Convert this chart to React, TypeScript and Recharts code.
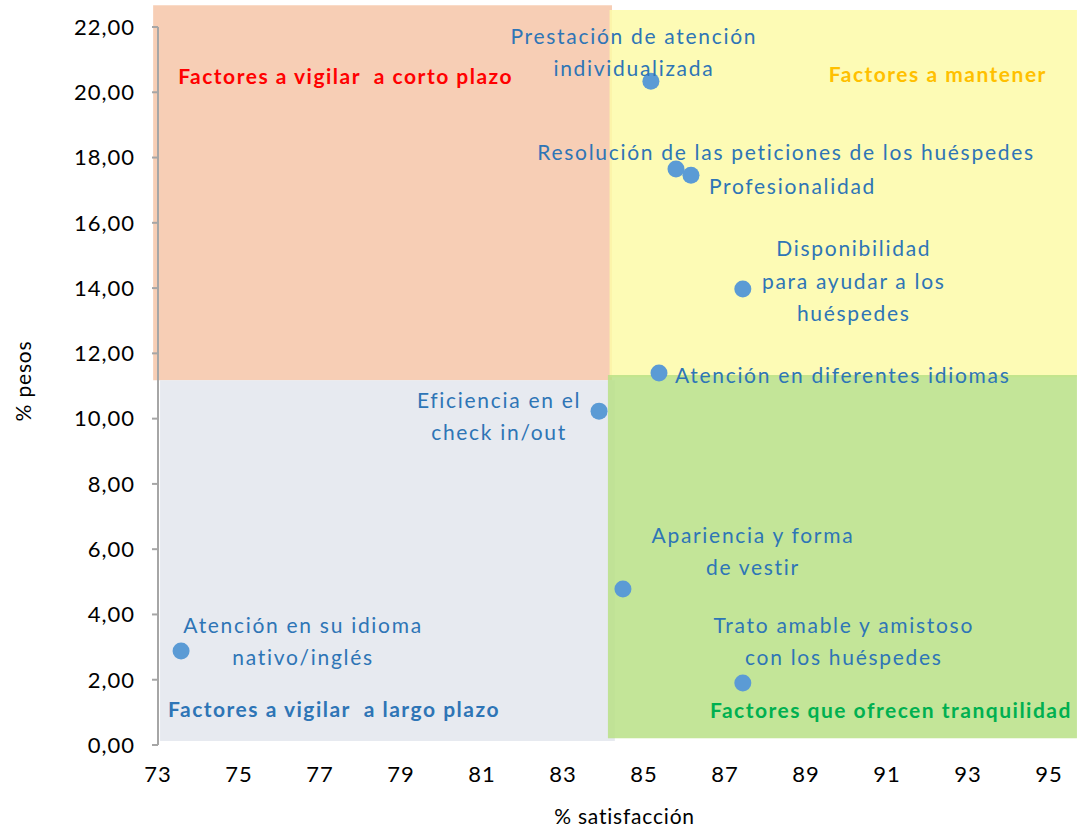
import { ScatterChart, Scatter, XAxis, YAxis, ReferenceArea } from 'recharts';

// % satisfacción / % pesos per factor
const names = [
  'Prestación de atención individualizada',
  'Resolución de las peticiones de los huéspedes',
  'Profesionalidad',
  'Disponibilidad para ayudar a los huéspedes',
  'Atención en diferentes idiomas',
  'Eficiencia en el check in/out',
  'Apariencia y forma de vestir',
  'Trato amable y amistoso con los huéspedes',
  'Atención en su idioma nativo/inglés',
];
const satisfaction = [85.17, 85.79, 86.16, 87.44, 85.37, 83.89, 84.48, 87.44, 73.57];
const weights = [20.34, 17.65, 17.46, 13.97, 11.4, 10.23, 4.78, 1.9, 2.88];

const xTicks = [73, 75, 77, 79, 81, 83, 85, 87, 89, 91, 93, 95];
const yTicks = [0, 2, 4, 6, 8, 10, 12, 14, 16, 18, 20, 22];

// quadrant boxes: [x1, x2, y1, y2]
const quadrantNames = [
  'Factores a vigilar  a corto plazo',
  'Factores a mantener',
  'Factores a vigilar  a largo plazo',
  'Factores que ofrecen tranquilidad',
];
const quadrantBounds = [
  [72.88, 84.21, 11.18, 22.67],
  [84.15, 95.69, 11.27, 22.52],
  [73.05, 84.28, 0.12, 11.18],
  [84.11, 95.69, 0.21, 11.34],
];

const data = names.map((name, i) => ({ name, x: satisfaction[i], y: weights[i] }));

// label layout per point: anchor, dx, and one dy per line
const labelLayout: Record<string, { anchor: string; dx: number; lines: [string, number][] }> = {
  [names[0]]: { anchor: 'middle', dx: -17, lines: [['Prestación de atención', -46], ['individualizada', -14]] },
  [names[1]]: { anchor: 'middle', dx: 110, lines: [['Resolución de las peticiones de los huéspedes', -17]] },
  [names[2]]: { anchor: 'start', dx: 18, lines: [['Profesionalidad', 10]] },
  [names[3]]: { anchor: 'middle', dx: 111, lines: [['Disponibilidad', -42], ['para ayudar a los', -9], ['huéspedes', 23]] },
  [names[4]]: { anchor: 'start', dx: 16, lines: [['Atención en diferentes idiomas', 2]] },
  [names[5]]: { anchor: 'middle', dx: -100, lines: [['Eficiencia en el', -12], ['check in/out', 20]] },
  [names[6]]: { anchor: 'middle', dx: 130, lines: [['Apariencia y forma', -54], ['de vestir', -22]] },
  [names[7]]: { anchor: 'middle', dx: 101, lines: [['Trato amable y amistoso', -58], ['con los huéspedes', -26]] },
  [names[8]]: { anchor: 'middle', dx: 122, lines: [['Atención en su idioma', -27], ['nativo/inglés', 5]] },
};

const FONT = 'Lato, "Open Sans", sans-serif';
const fills = ['#F6C5A8', '#FDFAA8', '#E3E6ED', '#B8E086'];
const titleColors = ['#FF0000', '#FFC000', '#2E75B6', '#00B050'];

const PointShape = (props: any) => {
  const { cx, cy, payload } = props;
  const l = labelLayout[payload.name];
  return (
    <g>
      <circle cx={cx} cy={cy} r={8.5} fill="#5B9BD5" />
      {l.lines.map(([t, dy]) => (
        <text
          key={t}
          x={cx + l.dx}
          y={cy + dy}
          textAnchor={l.anchor as any}
          dominantBaseline="central"
          fill="#2E75B6"
          fontSize={21}
          letterSpacing={1.7}
          fontFamily={FONT}
        >
          {t}
        </text>
      ))}
    </g>
  );
};

const quadrantTitle = (i: number) => (props: any) => {
  const { x, y, width, height } = props.viewBox;
  const pos = [
    { tx: x + 25, ty: y + 70, a: 'start' },
    { tx: x + width - 30, ty: y + 63, a: 'end' },
    { tx: x + 8, ty: y + height - 33, a: 'start' },
    { tx: x + width - 5, ty: y + height - 29, a: 'end' },
  ][i];
  return (
    <text
      x={pos.tx}
      y={pos.ty}
      textAnchor={pos.a as any}
      dominantBaseline="central"
      fill={titleColors[i]}
      fontSize={21}
      letterSpacing={1.5}
      fontWeight="bold"
      fontFamily={FONT}
      style={{ whiteSpace: 'pre' }}
    >
      {quadrantNames[i]}
    </text>
  );
};

const XTitle = (props: any) => {
  const { x, y, width, height } = props.viewBox;
  return (
    <text x={x + width / 2 + 21} y={y + height - 17} textAnchor="middle" dominantBaseline="central"
      fill="#000" fontSize={21} letterSpacing={0.8} fontFamily={FONT}>
      % satisfacción
    </text>
  );
};

const YTitle = (props: any) => {
  const { y, height } = props.viewBox;
  const cy = y + height / 2 - 5;
  return (
    <text x={22} y={cy} transform={`rotate(-90 22 ${cy})`} textAnchor="middle" dominantBaseline="central"
      fill="#000" fontSize={21} letterSpacing={0.8} fontFamily={FONT}>
      % pesos
    </text>
  );
};

export default function App() {
  return (
    <div style={{ position: 'absolute', left: 0, top: 0, background: '#fff' }}>
      <ScatterChart width={1077} height={832} margin={{ top: 27, right: 28, bottom: 0, left: 0 }}>
        {quadrantBounds.map(([x1, x2, y1, y2], i) => (
          <ReferenceArea
            key={i}
            x1={x1}
            x2={x2}
            y1={y1}
            y2={y2}
            fill={fills[i]}
            fillOpacity={0.85}
            stroke="none"
            ifOverflow="visible"
            label={quadrantTitle(i)}
          />
        ))}
        <XAxis
          type="number"
          dataKey="x"
          domain={[73, 95]}
          ticks={xTicks}
          axisLine={false}
          tickLine={false}
          tickSize={0}
          tickMargin={21}
          height={87}
          tick={{ fill: '#000', fontSize: 22, letterSpacing: 1, fontFamily: FONT }}
          label={<XTitle />}
        />
        <YAxis
          type="number"
          dataKey="y"
          domain={[0, 22]}
          ticks={yTicks}
          width={158}
          axisLine={{ stroke: '#A6A6A6', strokeWidth: 2 }}
          tickLine={{ stroke: '#A6A6A6', strokeWidth: 2 }}
          tickSize={6}
          tickMargin={17}
          tickFormatter={(v: number) => v.toFixed(2).replace('.', ',')}
          tick={{ fill: '#000', fontSize: 22, letterSpacing: 1, fontFamily: FONT }}
          label={<YTitle />}
        />
        <Scatter data={data} shape={PointShape} isAnimationActive={false} />
      </ScatterChart>
    </div>
  );
}
